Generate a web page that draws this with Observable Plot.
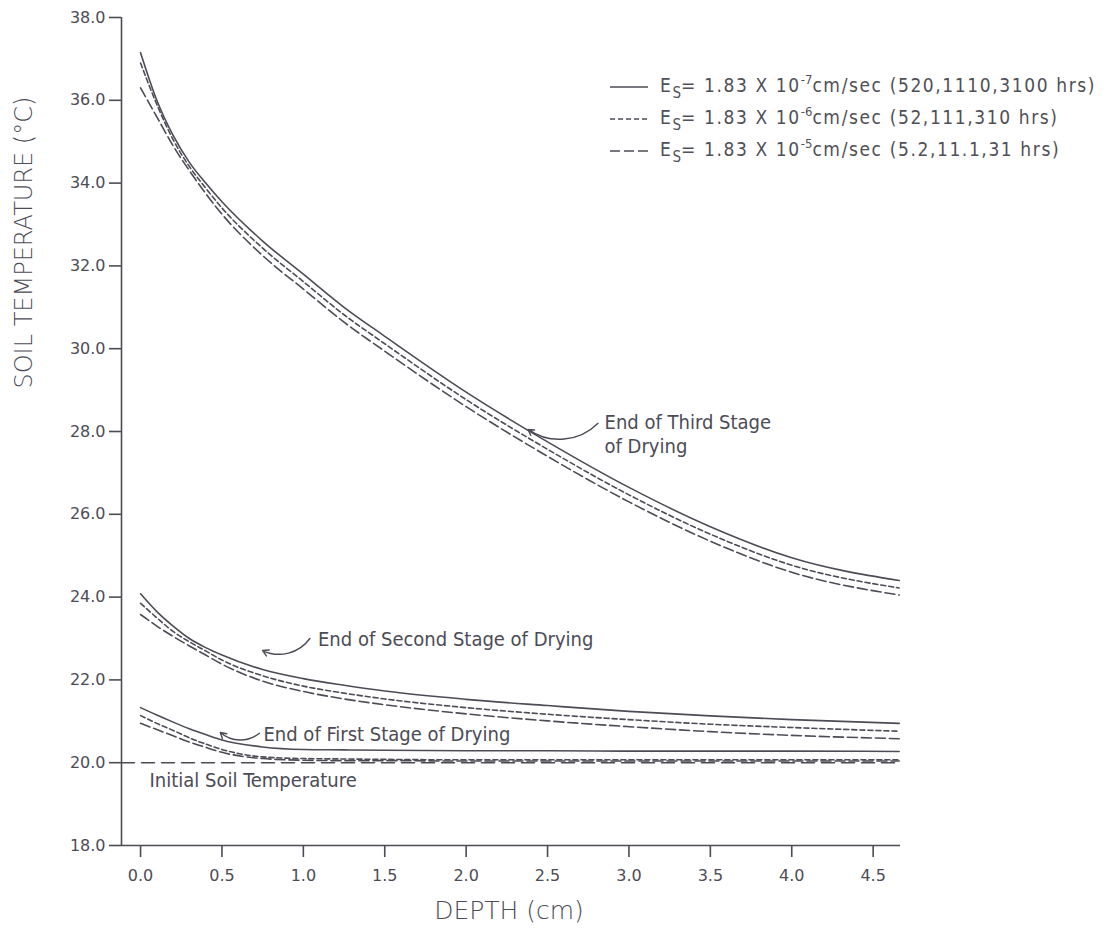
<!DOCTYPE html>
<html>
<head>
<meta charset="utf-8">
<script src="https://cdn.jsdelivr.net/npm/d3@7"></script>
<script src="https://cdn.jsdelivr.net/npm/@observablehq/plot@0.6"></script>
<style>
  html, body { margin: 0; padding: 0; background: #ffffff; }
  #wrap { position: relative; width: 1118px; height: 934px; }
  #legend { position: absolute; left: 610px; top: 71px; font-family: "DejaVu Sans Condensed", "DejaVu Sans", sans-serif; font-stretch: condensed; font-size: 19px; letter-spacing: 1.6px; color: #505058; }
  #legend .row { height: 32px; display: flex; align-items: center; white-space: nowrap; }
  #legend svg { margin-right: 12px; }
  #legend sub { font-size: 15px; vertical-align: -6px; letter-spacing: 0; }
  #legend sup { font-size: 13px; vertical-align: 8px; letter-spacing: 0; }
</style>
</head>
<body>
<div id="wrap"></div>
<script>
// ---- data ----
const depth = [0, 0.1, 0.2, 0.3, 0.4, 0.5, 0.75, 1.0, 1.25, 1.5, 2.0, 2.5, 3.0, 3.5, 4.0, 4.66];

// End of third stage of drying
const third_e7 = [37.15, 36.0, 35.15, 34.5, 34.0, 33.55, 32.6, 31.8, 31.0, 30.3, 28.95, 27.75, 26.65, 25.7, 24.95, 24.4];
const third_e6 = [36.9, 35.9, 35.05, 34.4, 33.88, 33.4, 32.43, 31.62, 30.82, 30.12, 28.77, 27.57, 26.47, 25.52, 24.77, 24.22];
const third_e5 = [36.3, 35.6, 34.9, 34.3, 33.75, 33.25, 32.25, 31.44, 30.64, 29.94, 28.6, 27.4, 26.3, 25.35, 24.6, 24.05];

// End of second stage of drying
const second_e7 = [24.08, 23.65, 23.3, 23.0, 22.78, 22.6, 22.25, 22.03, 21.87, 21.73, 21.53, 21.38, 21.24, 21.13, 21.04, 20.95];
const second_e6 = [23.85, 23.5, 23.17, 22.92, 22.7, 22.48, 22.1, 21.85, 21.68, 21.54, 21.33, 21.17, 21.04, 20.93, 20.85, 20.76];
const second_e5 = [23.58, 23.3, 23.05, 22.82, 22.6, 22.38, 21.97, 21.72, 21.54, 21.4, 21.18, 21.01, 20.87, 20.75, 20.66, 20.58];

// End of first stage of drying
const first_e7 = [21.33, 21.15, 20.98, 20.82, 20.68, 20.55, 20.38, 20.32, 20.31, 20.3, 20.29, 20.29, 20.28, 20.28, 20.28, 20.27];
const first_e6 = [21.14, 20.95, 20.78, 20.6, 20.45, 20.32, 20.14, 20.1, 20.09, 20.08, 20.07, 20.07, 20.07, 20.07, 20.07, 20.07];
const first_e5 = [20.95, 20.8, 20.65, 20.5, 20.37, 20.25, 20.1, 20.06, 20.05, 20.05, 20.04, 20.04, 20.04, 20.04, 20.04, 20.04];

const initialTemp = 20.0;

const seriesNames = ["E7", "E6", "E5"];
const dashStyles = { E7: null, E6: "5,3", E5: "10,4" };

const xTicks = [0, 0.5, 1.0, 1.5, 2.0, 2.5, 3.0, 3.5, 4.0, 4.5];
const yTicks = [18, 20, 22, 24, 26, 28, 30, 32, 34, 36, 38];
const xDomain = [-0.117, 4.668];
const yDomain = [18, 38];

// annotations
const annText  = ["End of Third Stage\nof Drying", "End of Second Stage of Drying", "End of First Stage of Drying", "Initial Soil Temperature"];
const annTextX = [2.85, 1.09, 0.755, 0.055];
const annTextY = [27.95, 23.0, 20.7, 19.6];
const arrX1 = [2.81, 1.04, 0.73];
const arrY1 = [28.2, 23.0, 20.71];
const arrX2 = [2.38, 0.75, 0.49];
const arrY2 = [28.05, 22.71, 20.73];

// ---- build rows ----
function rows(stage, vals, series) { return depth.map((d, i) => ({stage, series, depth: d, temp: vals[i]})); }
const all = [
  ...rows("third", third_e7, "E7"), ...rows("third", third_e6, "E6"), ...rows("third", third_e5, "E5"),
  ...rows("second", second_e7, "E7"), ...rows("second", second_e6, "E6"), ...rows("second", second_e5, "E5"),
  ...rows("first", first_e7, "E7"), ...rows("first", first_e6, "E6"), ...rows("first", first_e5, "E5")
];
const initRows = [{depth: xDomain[0], temp: initialTemp}, {depth: depth[depth.length - 1], temp: initialTemp}];
const annRows = annText.map((t, i) => ({t, x: annTextX[i], y: annTextY[i]}));
const arrRows = arrX1.map((x, i) => ({x1: x, y1: arrY1[i], x2: arrX2[i], y2: arrY2[i]}));

const ink = "#4c4c56";
const condensed = '"DejaVu Sans Condensed", "DejaVu Sans", sans-serif';

const lineMarks = seriesNames.map(s => Plot.line(all.filter(r => r.series === s), {
  x: "depth", y: "temp", z: "stage", stroke: ink, strokeWidth: 1.6,
  strokeDasharray: dashStyles[s], curve: "monotone-x"
}));

const chart = Plot.plot({
  width: 1118, height: 934,
  marginLeft: 121, marginRight: 218, marginTop: 17, marginBottom: 89,
  style: { background: "#ffffff", fontFamily: "DejaVu Sans, sans-serif", color: ink },
  x: { domain: xDomain },
  y: { domain: yDomain },
  marks: [
    Plot.ruleY([yDomain[0]], { stroke: ink, strokeWidth: 1.6 }),
    Plot.ruleX([xDomain[0]], { stroke: ink, strokeWidth: 1.6 }),
    Plot.axisX({ ticks: xTicks, tickFormat: d3.format(".1f"), tickSize: 12, tickPadding: 12,
      fontSize: 16, stroke: ink, strokeWidth: 1.6, label: null, ariaLabel: "x-axis" }),
    Plot.axisY({ ticks: yTicks, tickFormat: d3.format(".1f"), tickSize: 12, tickPadding: 4,
      fontSize: 16, stroke: ink, strokeWidth: 1.6, label: null, ariaLabel: "y-axis" }),
    Plot.line(initRows, { x: "depth", y: "temp", stroke: ink, strokeWidth: 1.6, strokeDasharray: "13,7" }),
    ...lineMarks,
    Plot.arrow(arrRows, { x1: "x1", y1: "y1", x2: "x2", y2: "y2", stroke: ink, strokeWidth: 1.4, bend: 40, headLength: 7 }),
    Plot.text(annRows, { x: "x", y: "y", text: "t", textAnchor: "start", fontSize: 20, fill: ink, lineHeight: 1.2, fontFamily: condensed, ariaLabel: "annotations" }),
    Plot.text(["DEPTH (cm)"], { frameAnchor: "bottom", dx: -2, dy: 73, fontSize: 25, fill: ink, fontFamily: "DejaVu Sans", fontWeight: 300, ariaLabel: "x-title" }),
    Plot.text(["SOIL TEMPERATURE (°C)"], { frameAnchor: "left", dx: -97, dy: -43, rotate: -90, fontSize: 24, fill: ink, fontFamily: "DejaVu Sans", fontWeight: 300, ariaLabel: "y-title" })
  ]
});

// letter spacing to match the wide lettering of the original
const sel = d3.select(chart);
sel.selectAll('g[aria-label="annotations"] text').style("letter-spacing", "1px");
sel.selectAll('g[aria-label="x-title"] text').style("letter-spacing", "1.5px");
sel.selectAll('g[aria-label="y-title"] text').style("letter-spacing", "1px");
sel.selectAll('g[aria-label="x-axis"] text, g[aria-label="y-axis"] text').style("letter-spacing", "0.8px");

const wrap = document.getElementById("wrap");
wrap.appendChild(chart);

// legend
const legendItems = [
  { dash: null, exp: "-7", note: "(520,1110,3100 hrs)" },
  { dash: "5,3", exp: "-6", note: "(52,111,310 hrs)" },
  { dash: "10,4", exp: "-5", note: "(5.2,11.1,31 hrs)" }
];
const legend = document.createElement("div");
legend.id = "legend";
legendItems.forEach(it => {
  const row = document.createElement("div");
  row.className = "row";
  row.innerHTML = `<svg width="38" height="10"><line x1="0" y1="5" x2="38" y2="5" stroke="${ink}" stroke-width="1.6" ${it.dash ? `stroke-dasharray="${it.dash}"` : ""}/></svg>` +
    `<span>E<sub>S</sub>= 1.83 X 10<sup>${it.exp}</sup>cm/sec ${it.note}</span>`;
  legend.appendChild(row);
});
wrap.appendChild(legend);
</script>
</body>
</html>
